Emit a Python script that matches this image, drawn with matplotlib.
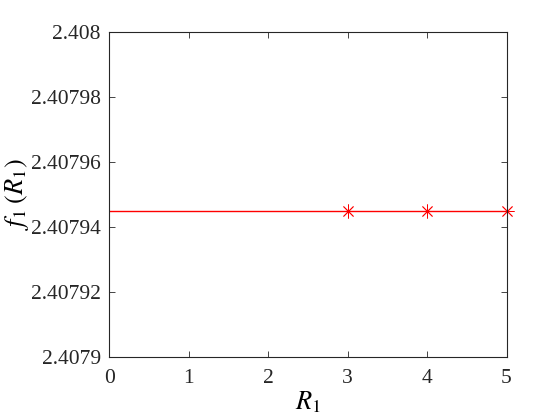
import numpy as np
import matplotlib
matplotlib.use('Agg')
from matplotlib import pyplot as plt

# data
line_x = [0, 5]
line_y = [2.407945, 2.407945]
pts_x = [3, 4, 5]
pts_y = [2.407945, 2.407945, 2.407945]
yticks = [2.4079, 2.40792, 2.40794, 2.40796, 2.40798, 2.408]
ytick_labels = ['2.4079', '2.40792', '2.40794', '2.40796', '2.40798', '2.408']
xticks = [0, 1, 2, 3, 4, 5]

plt.rcParams['font.family'] = ['Liberation Serif', 'DejaVu Serif']
plt.rcParams['mathtext.fontset'] = 'stix'

fig = plt.figure(figsize=(5.6, 4.2), dpi=100)
ax = fig.add_axes([0.195, 0.149, 0.7095, 0.7755])

ax.plot(line_x, line_y, color='red', lw=1.0)
ax.plot(pts_x, pts_y, ls='none', marker=(8, 2, 0), ms=10, mew=0.6,
        color='red', clip_on=False)

ax.set_xlim(0, 5)
ax.set_ylim(2.4079, 2.408)
ax.set_xticks(xticks)
ax.set_yticks(yticks)
ax.set_yticklabels(ytick_labels)
ax.tick_params(direction='in', length=4, width=0.6, top=True, right=True,
               labelsize=15.5, colors='#262626')
ax.tick_params(axis='x', pad=8)
ax.tick_params(axis='y', pad=6)
for s in ax.spines.values():
    s.set_linewidth(0.8)
    s.set_color('#262626')

ax.set_xlabel(r'$R_1$', fontsize=19, labelpad=1)
ax.set_ylabel(r'$f_1\;(R_1)$', fontsize=19, labelpad=0)

fig.savefig('out.png', dpi=100)
